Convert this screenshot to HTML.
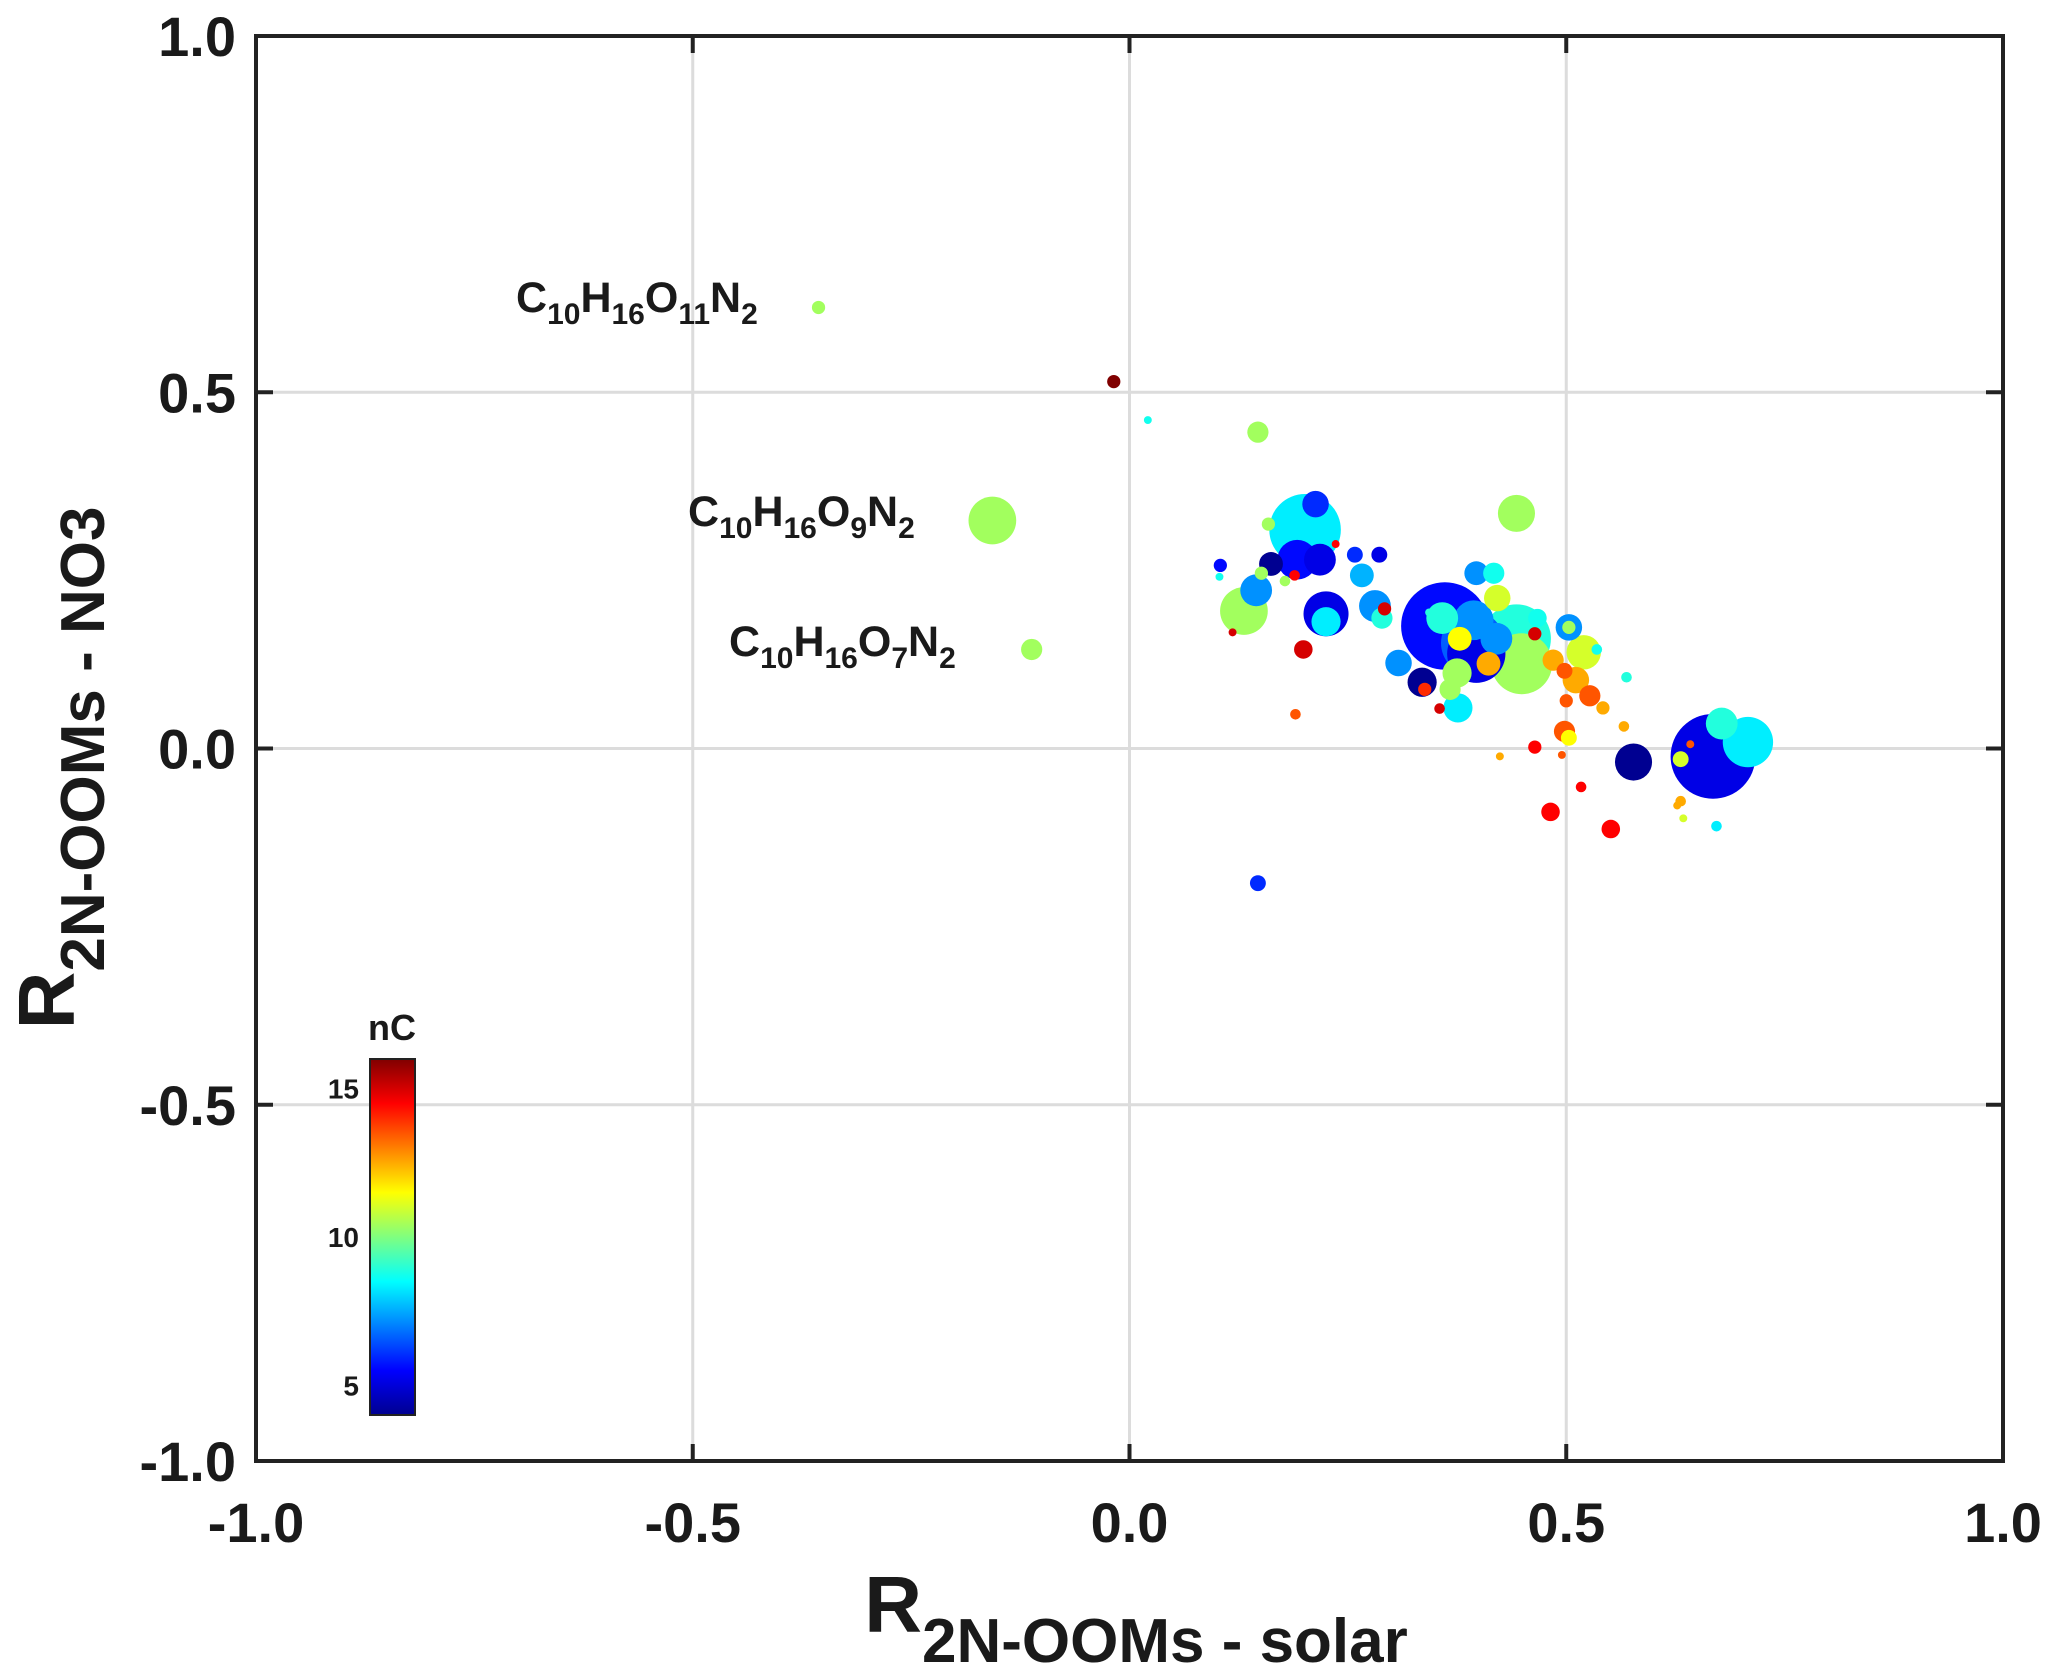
<!DOCTYPE html>
<html><head><meta charset="utf-8"><style>
html,body{margin:0;padding:0;background:#fff;}
svg{display:block;font-family:"Liberation Sans",Arial,sans-serif;font-weight:bold;}
</style></head><body>
<svg id="chart" width="2067" height="1673" viewBox="0 0 2067 1673" xmlns="http://www.w3.org/2000/svg">
<defs>
<linearGradient id="jet" x1="0" y1="1" x2="0" y2="0">
<stop offset="0" stop-color="#00008f"/><stop offset="0.125" stop-color="#0000ff"/><stop offset="0.375" stop-color="#00ffff"/><stop offset="0.625" stop-color="#ffff00"/><stop offset="0.875" stop-color="#ff0000"/><stop offset="1" stop-color="#800000"/>
</linearGradient>
</defs>
<g id="grid"></g>
<g id="marks"></g>
<g id="axes"></g>
<g font-size="43" fill="#1a1a1a">
<text x="516" y="312">C<tspan font-size="30" dy="12">10</tspan><tspan dy="-12">H</tspan><tspan font-size="30" dy="12">16</tspan><tspan dy="-12">O</tspan><tspan font-size="30" dy="12">11</tspan><tspan dy="-12">N</tspan><tspan font-size="30" dy="12">2</tspan></text>
<text x="688" y="526">C<tspan font-size="30" dy="12">10</tspan><tspan dy="-12">H</tspan><tspan font-size="30" dy="12">16</tspan><tspan dy="-12">O</tspan><tspan font-size="30" dy="12">9</tspan><tspan dy="-12">N</tspan><tspan font-size="30" dy="12">2</tspan></text>
<text x="729" y="656">C<tspan font-size="30" dy="12">10</tspan><tspan dy="-12">H</tspan><tspan font-size="30" dy="12">16</tspan><tspan dy="-12">O</tspan><tspan font-size="30" dy="12">7</tspan><tspan dy="-12">N</tspan><tspan font-size="30" dy="12">2</tspan></text>
</g>
<g fill="#1a1a1a">
<text x="1136" y="1632" text-anchor="middle" font-size="80">R<tspan font-size="62" dy="30">2N-OOMs - solar</tspan></text>
</g>
<g fill="#1a1a1a" transform="translate(74,768) rotate(-90)">
<text x="0" y="0" text-anchor="middle" font-size="80">R<tspan font-size="62" dy="30">2N-OOMs - NO3</tspan></text>
</g>
<g>
<rect x="370" y="1059" width="45" height="356" fill="url(#jet)" stroke="#222" stroke-width="2"/>
<text x="392" y="1040" text-anchor="middle" font-size="36" fill="#1a1a1a">nC</text>
<g id="cbticks" font-size="28" fill="#1a1a1a" text-anchor="end"></g>
</g>
</svg>
<script>
const xVals=[-0.356,-0.018,0.021,0.147,-0.157,-0.112,0.443,0.201,0.213,0.192,0.218,0.162,0.104,0.103,0.159,0.258,0.286,0.266,0.145,0.131,0.225,0.225,0.281,0.289,0.292,0.199,0.118,0.361,0.358,0.397,0.417,0.421,0.443,0.420,0.397,0.393,0.378,0.449,0.411,0.375,0.367,0.335,0.308,0.376,0.467,0.464,0.503,0.503,0.520,0.485,0.498,0.511,0.527,0.542,0.566,0.500,0.498,0.503,0.464,0.424,0.495,0.517,0.482,0.551,0.577,0.631,0.642,0.668,0.678,0.708,0.631,0.627,0.634,0.672,0.569,0.535,0.147,0.355,0.338,0.343,0.189,0.236,0.151,0.178,0.394,0.190];
const yVals=[0.619,0.515,0.461,0.444,0.320,0.139,0.330,0.307,0.343,0.265,0.265,0.259,0.257,0.241,0.315,0.272,0.272,0.243,0.222,0.193,0.189,0.178,0.200,0.183,0.196,0.139,0.163,0.172,0.183,0.246,0.246,0.211,0.154,0.154,0.133,0.148,0.154,0.119,0.119,0.106,0.083,0.093,0.120,0.057,0.183,0.161,0.170,0.170,0.135,0.124,0.109,0.096,0.074,0.057,0.031,0.067,0.024,0.015,0.002,-0.011,-0.009,-0.054,-0.089,-0.113,-0.019,-0.015,0.006,-0.011,0.035,0.009,-0.074,-0.080,-0.098,-0.109,0.100,0.139,-0.189,0.056,0.083,0.191,0.243,0.287,0.246,0.235,0.180,0.048];
const sizes=[5,5,3,8,18,8,14,27,10,15,12,9,5,3,5,6,6,9,12,18,17,11,12,8,5,7,3,33,12,9,8,10,26,12,22,24,9,23,9,11,8,11,10,11,7,5,10,5,13,8,6,10,8,5,4,5,8,6,5,3,3,4,7,7,14,6,3,32,12,19,4,3,3,4,4,4,6,4,5,3,4,3,5,4,15,4];
const nC=[10.4,16,8.7,10.4,10.4,10.4,10.4,8.3,6,5.6,5.2,4.2,5.6,8.7,10.4,6,5.2,7.6,7.2,10.4,5.2,8.3,7.2,8.9,15,15,15,5.6,8.9,7.2,8.7,11,8.9,7.2,5.2,6.6,11.5,10.4,12.5,10.4,10.4,4.2,7.2,8.3,8.7,15,7.2,10.4,11,12.5,13.5,12.5,13.5,12.5,12.5,13.5,13.5,11.5,14.5,12.5,13.5,14.5,14.5,14.5,4.2,11,13.5,5.2,8.9,8.3,12.5,12.5,11,8.3,8.9,8.7,6,15,14,8.9,14.5,14.5,10.4,10.4,7.2,13.5];
const axisTicks=[-1,-0.5,0,0.5,1];
const tickLabels=["-1.0","-0.5","0.0","0.5","1.0"];
const cbTicks=[5,10,15];
const L=256,R=2003,T=36,B=1461,CMIN=4,CMAX=16;
const NS="http://www.w3.org/2000/svg";
const sx=v=>L+(v+1)/2*(R-L);
const sy=v=>B-(v+1)/2*(B-T);
const sr=s=>s*1.325;
function jet(t){t=Math.max(0,Math.min(1,t));const f=x=>Math.round(255*Math.max(0,Math.min(1,x)));return `rgb(${f(1.5-Math.abs(4*t-3))},${f(1.5-Math.abs(4*t-2))},${f(1.5-Math.abs(4*t-1))})`;}
function mk(tag,attrs,parent){const e=document.createElementNS(NS,tag);for(const k in attrs)e.setAttribute(k,attrs[k]);parent.appendChild(e);return e;}
const grid=document.getElementById('grid'),axes=document.getElementById('axes'),marks=document.getElementById('marks');
axisTicks.forEach((v,i)=>{
 if(i>0&&i<axisTicks.length-1){
  const gx=mk('line',{x1:sx(v),x2:sx(v),y1:T,y2:B,stroke:'#dcdcdc','stroke-width':3},grid);
  
  
  const gy=mk('line',{x1:L,x2:R,y1:sy(v),y2:sy(v),stroke:'#dcdcdc','stroke-width':3},grid);
  
  
  [[sx(v),B,sx(v),B-17],[sx(v),T,sx(v),T+17],[L,sy(v),L+17,sy(v)],[R,sy(v),R-17,sy(v)]].forEach(c=>{
   const t=mk('line',{x1:c[0],y1:c[1],x2:c[2],y2:c[3],stroke:'#222','stroke-width':4},axes);
   
   
  });
 }
 const xl=mk('text',{x:sx(v),y:1542,'text-anchor':'middle','font-size':56,fill:'#1a1a1a'},axes);
 xl.textContent=tickLabels[i];
 
 
 const yl=mk('text',{x:236,y:sy(v)+20,'text-anchor':'end','font-size':56,fill:'#1a1a1a'},axes);
 yl.textContent=tickLabels[i];
 
 
});
const box=mk('rect',{x:L,y:T,width:R-L,height:B-T,fill:'none',stroke:'#222','stroke-width':4},axes);


const idx=xVals.map((_,i)=>i).sort((a,b)=>sizes[b]-sizes[a]);
idx.forEach(i=>{
 const c=mk('circle',{cx:sx(xVals[i]),cy:sy(yVals[i]),r:sr(sizes[i]),fill:jet((nC[i]-CMIN)/(CMAX-CMIN))},marks);
 
 
});
const cb=document.getElementById('cbticks');
const cy=v=>1415-(v-CMIN)/(CMAX-CMIN)*356;
cbTicks.forEach(v=>{
 const t=mk('text',{x:359,y:cy(v)+10},cb);
 t.textContent=v;
 
 
});
</script>
</body></html>
